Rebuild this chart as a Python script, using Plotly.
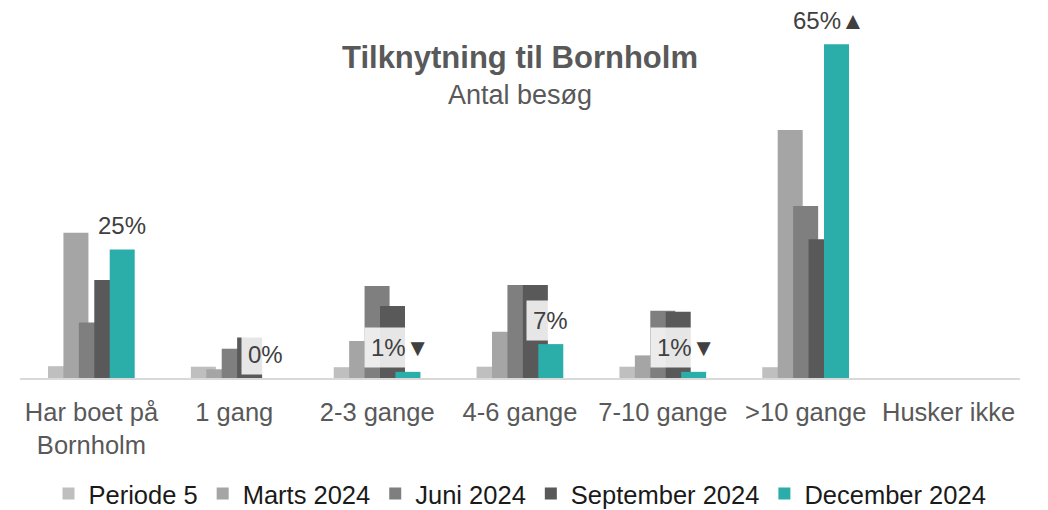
import plotly.graph_objs as go

categories = ["Har boet på<br>Bornholm", "1 gang", "2-3 gange", "4-6 gange",
              "7-10 gange", ">10 gange", "Husker ikke"]
series_names = ["Periode 5", "Marts 2024", "Juni 2024", "September 2024", "December 2024"]
periode5 = [2.3, 2.2, 2.1, 2.2, 2.2, 2.1, 0]
marts2024 = [28.3, 1.7, 7.2, 9.0, 4.4, 48.3, 0]
juni2024 = [10.8, 5.7, 17.9, 18.1, 13.1, 33.5, 0]
september2024 = [19.1, 7.9, 14.0, 18.1, 12.9, 27.0, 0]
december2024 = [25.0, 0.0, 1.2, 6.6, 1.2, 65.0, None]
dec_labels = ["25%", "0%", "1%", "7%", "1%", "65%"]
dec_arrows = ["", "", "▼", "", "▼", "▲"]

colors = ["#bfbfbf", "#a5a5a5", "#7f7f7f", "#595959", "#2badaa"]
font = "Liberation Sans, Arial, sans-serif"

# the page body has an 8px margin, so the figure is a bit smaller than the window
W, H = 1040, 502

# overlapping bars like the Excel original
bar_width = 0.175
step = 0.108
first_offset = -0.304

fig = go.Figure()
all_series = [periode5, marts2024, juni2024, september2024, december2024]
for i, (name, vals) in enumerate(zip(series_names, all_series)):
    fig.add_trace(go.Bar(
        x=categories,
        y=vals,
        name=name,
        width=bar_width,
        offset=first_offset + i * step,
        marker=dict(color=colors[i], line=dict(width=0)),
    ))

dec_center = first_offset + 4 * step + bar_width / 2
for i, (lab, arr) in enumerate(zip(dec_labels, dec_arrows)):
    fig.add_annotation(
        x=i + dec_center,
        y=december2024[i],
        xref="x", yref="y",
        text=lab + arr,
        showarrow=False,
        yanchor="middle",
        yshift=24,
        xshift=-8 if arr else 0,
        font=dict(family=font, size=24, color="#404040"),
        bgcolor="rgba(255,255,255,0.85)",
        borderpad=6,
    )

# subtitle
fig.add_annotation(
    text="Antal besøg",
    xref="paper", x=0.5, xanchor="center",
    yref="paper", y=(370 - 87) / 358, yanchor="middle",
    showarrow=False,
    font=dict(family=font, size=27, color="#595959"),
)

fig.update_layout(
    width=W,
    height=H,
    barmode="overlay",
    paper_bgcolor="white",
    plot_bgcolor="white",
    margin=dict(l=12, r=28, t=12, b=132),
    font=dict(family=font, size=25, color="#595959"),
    title=dict(
        text="<b>Tilknytning til Bornholm</b>",
        font=dict(family=font, size=31, color="#595959"),
        x=0.5, xref="paper", xanchor="center",
        y=1 - 49 / H, yref="container", yanchor="middle",
    ),
    xaxis=dict(
        type="category",
        showline=True,
        linecolor="#d9d9d9",
        linewidth=2,
        showgrid=False,
        ticks="",
        ticklabelstandoff=10,
        tickfont=dict(family=font, size=25.5, color="#595959"),
    ),
    yaxis=dict(range=[0, 69.7], visible=False),
    legend=dict(
        orientation="h",
        x=0.5, xanchor="center",
        y=1 - 486 / H, yref="container", yanchor="middle",
        font=dict(family=font, size=25.5, color="#1a1a1a"),
        itemwidth=30,
        traceorder="normal",
    ),
    showlegend=True,
)

fig.write_html("out.html")
